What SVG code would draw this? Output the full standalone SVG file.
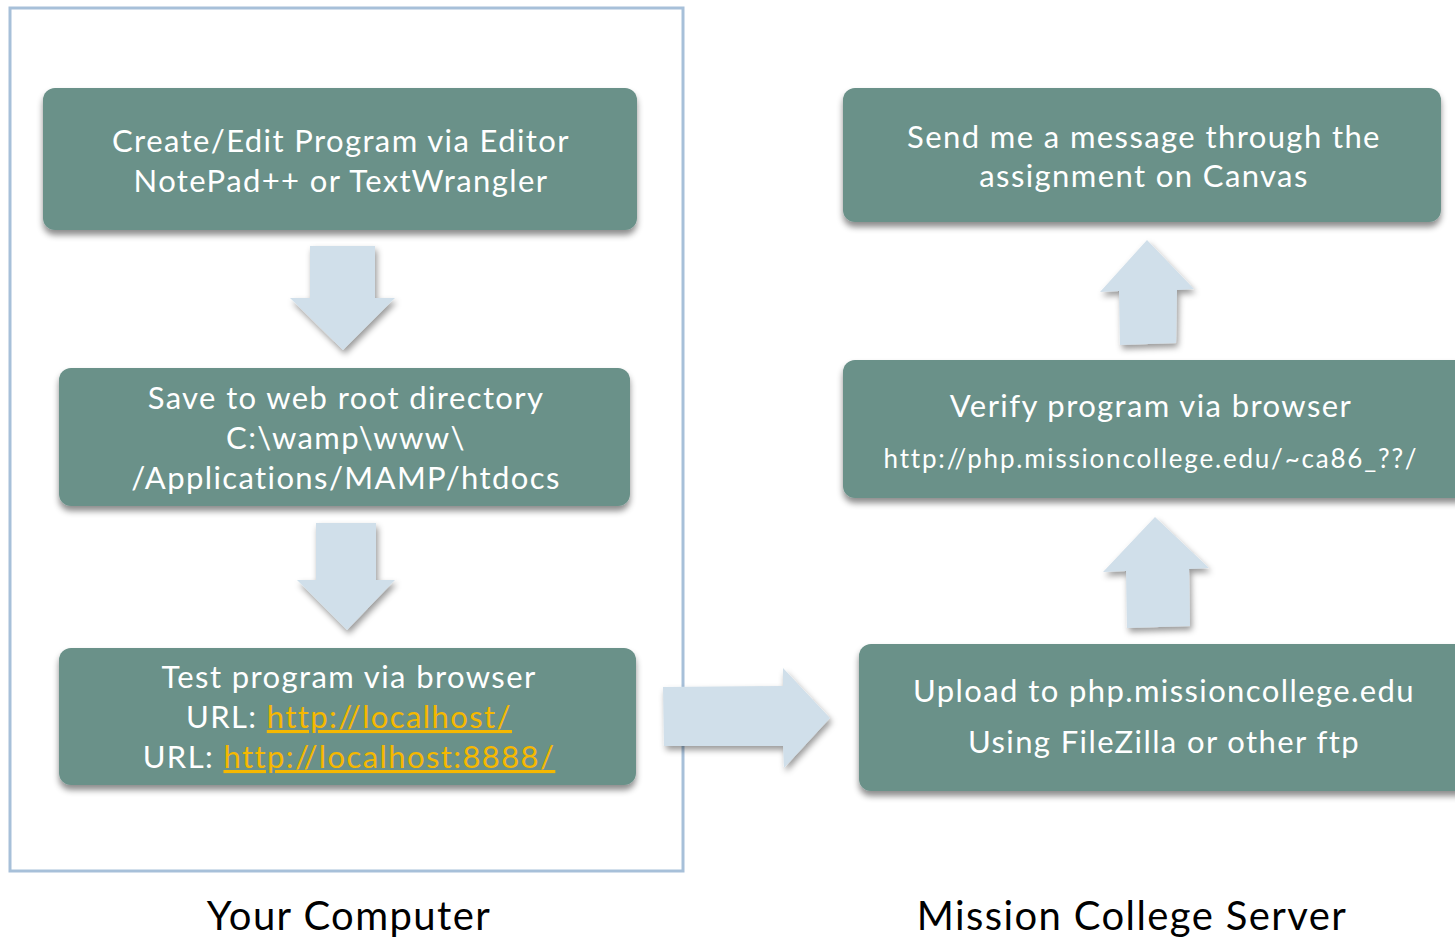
<svg xmlns="http://www.w3.org/2000/svg" width="1455" height="937" viewBox="0 0 1455 937">
<defs>
<filter id="sh" x="-10%" y="-10%" width="120%" height="130%">
<feDropShadow dx="0" dy="5" stdDeviation="3" flood-color="#000" flood-opacity="0.45"/>
</filter>
<filter id="ash" x="-20%" y="-20%" width="140%" height="140%">
<feDropShadow dx="2" dy="4" stdDeviation="3" flood-color="#000" flood-opacity="0.4"/>
</filter>
</defs>
<style>
.box{fill:#6a9189;filter:url(#sh)}
.t{font-family:Lato,"Open Sans",sans-serif;fill:#fff;text-anchor:middle;font-size:31px;letter-spacing:1.4px}
.s{font-size:26px;letter-spacing:1.8px}
.lk{fill:#f5b800;text-decoration:underline}
.ar{fill:#d0dfea;filter:url(#ash)}
.lab{font-family:Lato,"Open Sans",sans-serif;fill:#000;text-anchor:middle;font-size:40px;letter-spacing:1.4px}
</style>
<rect width="1455" height="937" fill="#fff"/>
<rect id="frame" x="10" y="8" width="673" height="863" fill="none" stroke="#a7c0d9" stroke-width="3"/>
<g id="connectors">
<polygon class="ar" points="310,246 375,246 375,298 395,298 343,350 290,298 310,298"/>
<polygon class="ar" points="316,523 376,523 376,580 395,580 347,630 297,580 316,580"/>
<polygon class="ar" points="1147,240 1194,289 1177,290 1176,343 1120,345 1119,291 1100,292"/>
<polygon class="ar" points="1155,517 1209,568 1189,569 1190,626 1127,628 1126,571 1103,572"/>
<polygon class="ar" points="663,687 783,686 783,668 830,718 784,768 783,746 664,746"/>
</g>
<g id="n1">
<rect class="box" x="43" y="88" width="594" height="142" rx="12"/>
<text class="t" x="341" y="152">Create/Edit Program via Editor</text>
<text class="t" x="341" y="192">NotePad++ or TextWrangler</text>
</g>
<g id="n2">
<rect class="box" x="59" y="368" width="571" height="138" rx="12"/>
<text class="t" x="346" y="409">Save to web root directory</text>
<text class="t" x="346" y="449">C:\wamp\www\</text>
<text class="t" x="346" y="489">/Applications/MAMP/htdocs</text>
</g>
<g id="n3">
<rect class="box" x="59" y="648" width="577" height="137" rx="12"/>
<text class="t" x="349" y="688">Test program via browser</text>
<text class="t" x="349" y="728">URL: <tspan class="lk">http://localhost/</tspan></text>
<text class="t" x="349" y="768">URL: <tspan class="lk">http://localhost:8888/</tspan></text>
</g>
<g id="n4">
<rect class="box" x="843" y="88" width="598" height="134" rx="12"/>
<text class="t" x="1144" y="148">Send me a message through the</text>
<text class="t" x="1144" y="187">assignment on Canvas</text>
</g>
<g id="n5">
<rect class="box" x="843" y="360" width="630" height="138" rx="12"/>
<text class="t" x="1151" y="417">Verify program via browser</text>
<text class="t s" x="1151" y="468">http://php.missioncollege.edu/~ca86_??/</text>
</g>
<g id="n6">
<rect class="box" x="859" y="644" width="620" height="147" rx="12"/>
<text class="t" x="1164" y="702">Upload to php.missioncollege.edu</text>
<text class="t" x="1164" y="753">Using FileZilla or other ftp</text>
</g>
<g id="labels">
<text class="lab" x="349" y="930">Your Computer</text>
<text class="lab" x="1132" y="930">Mission College Server</text>
</g>
</svg>
